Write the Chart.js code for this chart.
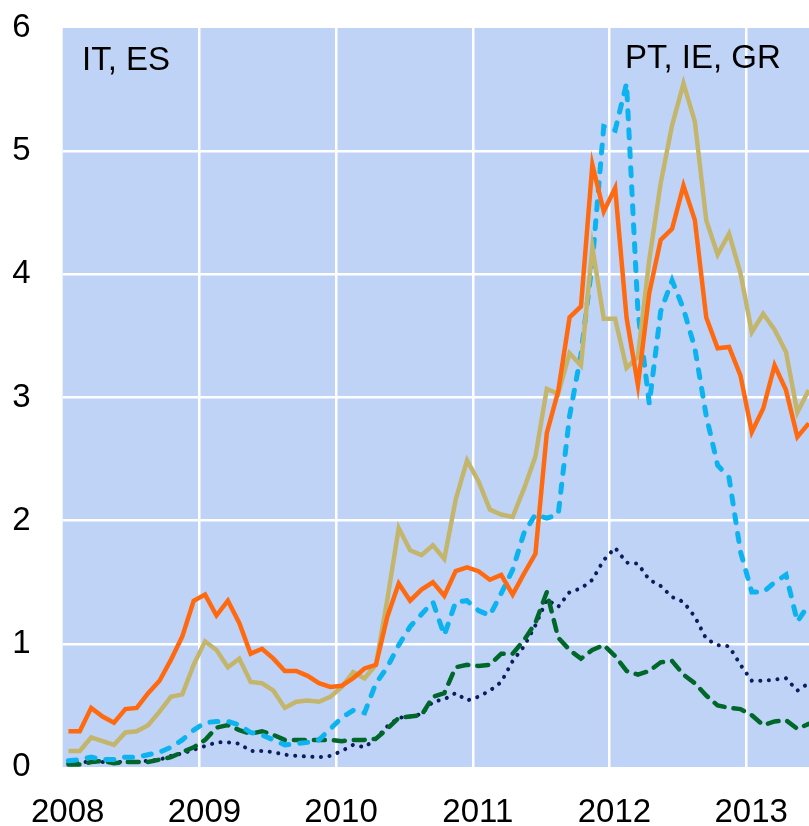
<!DOCTYPE html>
<html>
<head>
<meta charset="utf-8">
<script src="https://cdn.jsdelivr.net/npm/chart.js@4"></script>
<style>
  html, body { margin: 0; padding: 0; background: #ffffff; }
  #wrap { width: 809px; height: 826px; }
</style>
</head>
<body>
<div id="wrap"><canvas id="chart" width="809" height="826"></canvas></div>
<script>
// monthly observations, Jan 2008 - Jun 2013
const months = [
  "2008-01","2008-02","2008-03","2008-04","2008-05","2008-06","2008-07","2008-08","2008-09","2008-10","2008-11","2008-12",
  "2009-01","2009-02","2009-03","2009-04","2009-05","2009-06","2009-07","2009-08","2009-09","2009-10","2009-11","2009-12",
  "2010-01","2010-02","2010-03","2010-04","2010-05","2010-06","2010-07","2010-08","2010-09","2010-10","2010-11","2010-12",
  "2011-01","2011-02","2011-03","2011-04","2011-05","2011-06","2011-07","2011-08","2011-09","2011-10","2011-11","2011-12",
  "2012-01","2012-02","2012-03","2012-04","2012-05","2012-06","2012-07","2012-08","2012-09","2012-10","2012-11","2012-12",
  "2013-01","2013-02","2013-03","2013-04","2013-05","2013-06"
];

const orangeSeries = [
  0.29,0.29,0.48,0.41,0.36,0.47,0.48,0.60,0.70,0.87,1.06,1.35,
  1.40,1.23,1.35,1.17,0.92,0.96,0.88,0.78,0.78,0.74,0.68,0.65,
  0.66,0.72,0.80,0.83,1.22,1.49,1.35,1.44,1.50,1.39,1.59,1.62,
  1.59,1.52,1.56,1.40,1.57,1.73,2.71,3.05,3.65,3.74,4.89,4.51,
  4.70,3.65,3.10,3.85,4.28,4.37,4.72,4.44,3.65,3.40,3.41,3.18,
  2.72,2.91,3.26,3.06,2.68,2.79
];
const tanSeries = [
  0.13,0.13,0.24,0.21,0.18,0.28,0.29,0.34,0.45,0.57,0.59,0.83,
  1.02,0.95,0.81,0.88,0.69,0.68,0.62,0.48,0.53,0.54,0.53,0.57,
  0.65,0.77,0.72,0.83,1.36,1.94,1.76,1.72,1.80,1.69,2.17,2.49,
  2.32,2.09,2.05,2.03,2.26,2.52,3.07,3.03,3.36,3.26,4.22,3.64,
  3.64,3.24,3.33,4.12,4.74,5.21,5.55,5.24,4.44,4.16,4.33,4.01,
  3.53,3.68,3.55,3.37,2.88,3.06
];
const cyanSeries = [
  0.05,0.06,0.08,0.06,0.06,0.08,0.08,0.10,0.12,0.16,0.22,0.30,
  0.36,0.37,0.37,0.34,0.28,0.26,0.22,0.18,0.19,0.20,0.22,0.31,
  0.40,0.46,0.44,0.68,0.81,0.99,1.14,1.24,1.34,1.07,1.34,1.35,
  1.27,1.23,1.41,1.60,1.90,2.05,2.02,2.05,2.85,3.35,4.10,5.20,
  5.17,5.55,3.70,2.95,3.70,3.95,3.72,3.40,2.85,2.45,2.35,1.75,
  1.42,1.42,1.50,1.56,1.18,1.32
];
const greenSeries = [
  0.02,0.02,0.04,0.05,0.03,0.04,0.04,0.04,0.06,0.08,0.12,0.16,
  0.22,0.32,0.34,0.30,0.27,0.29,0.26,0.22,0.22,0.22,0.22,0.22,
  0.21,0.22,0.22,0.23,0.31,0.40,0.41,0.42,0.57,0.60,0.81,0.83,
  0.82,0.83,0.92,0.92,1.03,1.17,1.42,1.05,0.95,0.88,0.95,0.99,
  0.90,0.78,0.75,0.78,0.85,0.86,0.75,0.68,0.58,0.50,0.48,0.47,
  0.42,0.34,0.37,0.38,0.31,0.35
];
const navySeries = [
  0.03,0.04,0.04,0.04,0.04,0.04,0.04,0.05,0.06,0.09,0.11,0.14,
  0.17,0.20,0.20,0.19,0.13,0.13,0.12,0.10,0.09,0.085,0.08,0.09,
  0.13,0.18,0.16,0.23,0.33,0.40,0.41,0.43,0.53,0.55,0.60,0.54,
  0.57,0.62,0.69,0.86,0.98,1.15,1.36,1.30,1.42,1.45,1.52,1.68,
  1.78,1.66,1.65,1.52,1.47,1.38,1.34,1.22,1.04,0.99,0.98,0.83,
  0.70,0.70,0.71,0.72,0.62,0.68
];

const yearTicks = [2008, 2009, 2010, 2011, 2012, 2013];
const valueTicks = [0, 1, 2, 3, 4, 5, 6];
const cornerNotes = [
  { text: "IT, ES", x: 82, y: 70 },
  { text: "PT, IE, GR", x: 625, y: 68 }
];

// mid-month position on a decimal-year axis
function monthPos(label) {
  const [y, m] = label.split("-").map(Number);
  return y + (m - 0.5) / 12;
}
function toPoints(values) {
  return values.map((v, i) => ({ x: monthPos(months[i]), y: v }));
}

const plotBg = {
  id: "plotBg",
  beforeDraw(chart) {
    const a = chart.chartArea;
    const ctx = chart.ctx;
    ctx.save();
    ctx.fillStyle = "#bfd3f7";
    ctx.fillRect(a.left, a.top, a.right - a.left, a.bottom - a.top);
    ctx.restore();
  }
};

const notes = {
  id: "notes",
  afterDraw(chart) {
    const ctx = chart.ctx;
    ctx.save();
    ctx.font = "33px 'Liberation Sans', Arial, sans-serif";
    ctx.fillStyle = "#000000";
    ctx.textBaseline = "alphabetic";
    cornerNotes.forEach(n => ctx.fillText(n.text, n.x, n.y));
    ctx.restore();
  }
};

const tickFont = { family: "'Liberation Sans', Arial, sans-serif", size: 33 };

new Chart(document.getElementById("chart").getContext("2d"), {
  type: "line",
  data: {
    datasets: [
      { data: toPoints(orangeSeries), borderColor: "#ff6a10", borderWidth: 4.5 },
      { data: toPoints(tanSeries), borderColor: "#c3b66c", borderWidth: 4.5 },
      { data: toPoints(cyanSeries), borderColor: "#0db3ee", borderWidth: 5,
        borderDash: [8, 11], borderCapStyle: "round" },
      { data: toPoints(greenSeries), borderColor: "#00672b", borderWidth: 4.5,
        borderDash: [11, 9], borderCapStyle: "round" },
      { data: toPoints(navySeries), borderColor: "#0a1e5c", borderWidth: 4,
        borderDash: [0.1, 8.5], borderCapStyle: "round" }
    ]
  },
  options: {
    responsive: false,
    animation: false,
    devicePixelRatio: 1,
    layout: { padding: { top: 28, right: 0, bottom: 0, left: 0 } },
    elements: { point: { radius: 0 }, line: { tension: 0, fill: false } },
    plugins: { legend: { display: false }, tooltip: { enabled: false } },
    scales: {
      x: {
        type: "linear",
        min: 2008,
        max: 2013.46,
        afterBuildTicks: scale => { scale.ticks = yearTicks.map(v => ({ value: v })); },
        afterFit: scale => { scale.height = 59; },
        border: { display: false },
        grid: {
          drawTicks: false,
          lineWidth: 2.5,
          color: ctx => (ctx.tick && ctx.tick.value === 2008 ? "rgba(0,0,0,0)" : "#ffffff")
        },
        ticks: {
          padding: 26,
          labelOffset: 5,
          maxRotation: 0,
          autoSkip: false,
          color: "#000000",
          font: tickFont,
          callback: v => String(v)
        }
      },
      y: {
        min: 0,
        max: 6,
        afterBuildTicks: scale => { scale.ticks = valueTicks.map(v => ({ value: v })); },
        afterFit: scale => {
          scale.width = 62;
          scale.paddingTop = 0;
          scale.paddingBottom = 0;
        },
        border: { display: false },
        grid: {
          drawTicks: false,
          lineWidth: 2.5,
          color: ctx => (ctx.tick && (ctx.tick.value === 0 || ctx.tick.value === 6) ? "rgba(0,0,0,0)" : "#ffffff")
        },
        ticks: {
          padding: 32,
          color: "#000000",
          font: tickFont,
          callback: v => String(v)
        }
      }
    }
  },
  plugins: [plotBg, notes]
});
</script>
</body>
</html>
